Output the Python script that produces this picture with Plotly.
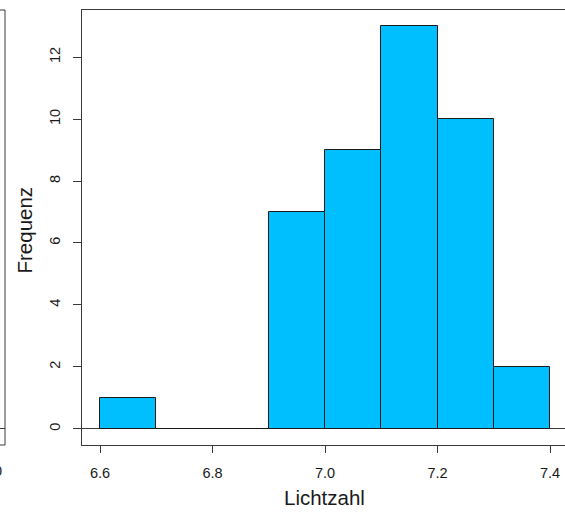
import plotly.graph_objects as go

# Histogram data
bin_edges = [6.6, 6.7, 6.8, 6.9, 7.0, 7.1, 7.2, 7.3, 7.4]
counts = [1, 0, 0, 7, 9, 13, 10, 2]
x_tick_vals = [6.6, 6.8, 7.0, 7.2, 7.4]
x_tick_text = ["6.6", "6.8", "7.0", "7.2", "7.4"]
y_tick_vals = [0, 2, 4, 6, 8, 10, 12]
x_title = "Lichtzahl"
y_title = "Frequenz"

mids = [(a + b) / 2 for a, b in zip(bin_edges[:-1], bin_edges[1:])]
widths = [b - a for a, b in zip(bin_edges[:-1], bin_edges[1:])]

W, H = 565, 515
L, T, B, R = 82, 10, 70, 0
plot_h = H - T - B

def py(pix):
    return (H - B - pix) / plot_h

def px(pix):
    return (pix - L) / (W - L - R)

fig = go.Figure()
fig.add_trace(go.Bar(
    x=mids, y=counts, width=widths,
    marker=dict(color="#00BFFF", line=dict(color="#1a1a1a", width=1)),
    hoverinfo="skip",
))

font = "Liberation Sans, Arial, sans-serif"
axcol = "#3a3a3a"
fig.update_layout(
    width=W, height=H,
    margin=dict(l=L, r=R, t=T, b=B, pad=0),
    paper_bgcolor="white", plot_bgcolor="white",
    showlegend=False,
    font=dict(family=font, size=14, color="#1a1a1a"),
    bargap=0,
    xaxis=dict(
        range=[6.568, 6.6 + (W - 100) / 562.5],
        tickvals=x_tick_vals, ticktext=x_tick_text,
        ticks="outside", ticklen=7, tickcolor=axcol, tickwidth=1,
        showline=True, mirror=True, linecolor=axcol, linewidth=1,
        showgrid=False, zeroline=False,
        ticklabelstandoff=8,
        tickfont=dict(size=14.5),
    ),
    yaxis=dict(
        range=[-0.52, 13.52],
        tickvals=y_tick_vals,
        ticks="outside", ticklen=8, tickcolor=axcol, tickwidth=1,
        tickangle=-90,
        showline=True, mirror=False, linecolor=axcol, linewidth=1,
        showgrid=False, zeroline=True, zerolinecolor=axcol, zerolinewidth=1,
        ticklabelstandoff=7,
        tickfont=dict(size=14.5),
    ),
    annotations=[
        dict(text=x_title, xref="paper", yref="paper",
             x=px(324.5), y=py(497), showarrow=False,
             xanchor="center", yanchor="middle", font=dict(size=20.5)),
        dict(text=y_title, xref="paper", yref="paper",
             x=px(23.5), y=py(230), showarrow=False, textangle=-90,
             xanchor="center", yanchor="middle", font=dict(size=20.5)),
        dict(text="0", xref="paper", yref="paper",
             x=px(-2), y=py(471), showarrow=False,
             xanchor="center", yanchor="middle", font=dict(size=14.5)),
    ],
    shapes=[
        # remnants of the neighbouring panel on the left edge
        dict(type="line", xref="paper", yref="paper",
             x0=px(5), x1=px(5), y0=py(445), y1=py(10),
             line=dict(color=axcol, width=1)),
        dict(type="line", xref="paper", yref="paper",
             x0=px(-5), x1=px(5), y0=py(10), y1=py(10),
             line=dict(color=axcol, width=1)),
        dict(type="line", xref="paper", yref="paper",
             x0=px(-5), x1=px(5), y0=py(445), y1=py(445),
             line=dict(color=axcol, width=1)),
        dict(type="line", xref="paper", yref="paper",
             x0=px(-5), x1=px(5), y0=py(428.5), y1=py(428.5),
             line=dict(color=axcol, width=1)),
    ],
)

fig.write_html("out.html")
